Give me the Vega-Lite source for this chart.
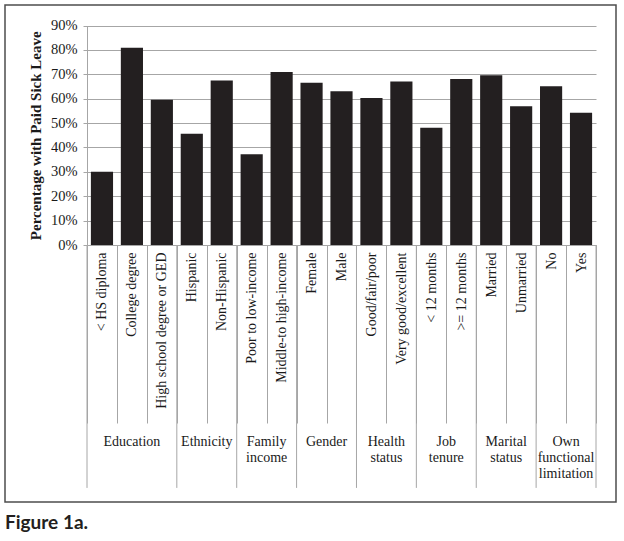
{
  "$schema": "https://vega.github.io/schema/vega-lite/v6.json",
  "width": 611,
  "height": 497,
  "autosize": "none",
  "padding": {"left": 5, "top": 5, "right": 8, "bottom": 39},
  "background": "white",
  "title": {"text": "Figure 1a.", "orient": "bottom", "anchor": "start", "frame": "group", "font": "Lato", "fontSize": 19, "fontWeight": "bold", "color": "#231f20", "offset": 12},
  "config": {"view": {"stroke": "#4d4d4d", "strokeWidth": 1.5}, "font": "serif"},
  "datasets": {
    "bars": [
      {"cat": "< HS diploma", "grp": "Education", "pct": 30.0},
      {"cat": "College degree", "grp": "Education", "pct": 80.9},
      {"cat": "High school degree or GED", "grp": "Education", "pct": 59.6},
      {"cat": "Hispanic", "grp": "Ethnicity", "pct": 45.6},
      {"cat": "Non-Hispanic", "grp": "Ethnicity", "pct": 67.5},
      {"cat": "Poor to low-income", "grp": "Family income", "pct": 37.2},
      {"cat": "Middle-to high-income", "grp": "Family income", "pct": 70.9},
      {"cat": "Female", "grp": "Gender", "pct": 66.5},
      {"cat": "Male", "grp": "Gender", "pct": 63.0},
      {"cat": "Good/fair/poor", "grp": "Health status", "pct": 60.3},
      {"cat": "Very good/excellent", "grp": "Health status", "pct": 67.0},
      {"cat": "< 12 months", "grp": "Job tenure", "pct": 48.1},
      {"cat": ">= 12 months", "grp": "Job tenure", "pct": 68.1},
      {"cat": "Married", "grp": "Marital status", "pct": 69.6},
      {"cat": "Unmarried", "grp": "Marital status", "pct": 56.9},
      {"cat": "No", "grp": "Own functional limitation", "pct": 65.1},
      {"cat": "Yes", "grp": "Own functional limitation", "pct": 54.2}
    ],
    "groups": [
      {"cat": "College degree", "label": "Education", "three": true},
      {"cat": "Non-Hispanic", "label": "Ethnicity", "three": false},
      {"cat": "Middle-to high-income", "label": "Family\nincome", "three": false},
      {"cat": "Male", "label": "Gender", "three": false},
      {"cat": "Very good/excellent", "label": "Health\nstatus", "three": false},
      {"cat": ">= 12 months", "label": "Job\ntenure", "three": false},
      {"cat": "Unmarried", "label": "Marital\nstatus", "three": false},
      {"cat": "Yes", "label": "Own\nfunctional\nlimitation", "three": false}
    ],
    "bounds": [
      {"cat": "< HS diploma", "side": "start"},
      {"cat": "Hispanic", "side": "start"},
      {"cat": "Poor to low-income", "side": "start"},
      {"cat": "Female", "side": "start"},
      {"cat": "Good/fair/poor", "side": "start"},
      {"cat": "< 12 months", "side": "start"},
      {"cat": "Married", "side": "start"},
      {"cat": "No", "side": "start"},
      {"cat": "Yes", "side": "end"}
    ]
  },
  "layer": [
    {
      "data": {"name": "bounds"},
      "transform": [{"filter": "datum.side == 'start'"}],
      "mark": {"type": "rule", "color": "#a6a6a6", "strokeWidth": 1},
      "encoding": {
        "x": {"field": "cat", "type": "nominal", "bandPosition": 0, "sort": null, "scale": {"domain": ["< HS diploma", "College degree", "High school degree or GED", "Hispanic", "Non-Hispanic", "Poor to low-income", "Middle-to high-income", "Female", "Male", "Good/fair/poor", "Very good/excellent", "< 12 months", ">= 12 months", "Married", "Unmarried", "No", "Yes"]}},
        "y": {"datum": 0},
        "y2": {"datum": -99.6}
      }
    },
    {
      "data": {"name": "bounds"},
      "transform": [{"filter": "datum.side == 'end'"}],
      "mark": {"type": "rule", "color": "#a6a6a6", "strokeWidth": 1},
      "encoding": {
        "x": {"field": "cat", "type": "nominal", "bandPosition": 1, "sort": null, "scale": {"domain": ["< HS diploma", "College degree", "High school degree or GED", "Hispanic", "Non-Hispanic", "Poor to low-income", "Middle-to high-income", "Female", "Male", "Good/fair/poor", "Very good/excellent", "< 12 months", ">= 12 months", "Married", "Unmarried", "No", "Yes"]}},
        "y": {"datum": 0},
        "y2": {"datum": -99.6}
      }
    },
    {
      "data": {"name": "bars"},
      "mark": {"type": "bar", "width": {"band": 0.74}, "color": "#231f20"},
      "encoding": {
        "x": {
          "field": "cat", "type": "nominal", "sort": null, "title": null,
          "scale": {"domain": ["< HS diploma", "College degree", "High school degree or GED", "Hispanic", "Non-Hispanic", "Poor to low-income", "Middle-to high-income", "Female", "Male", "Good/fair/poor", "Very good/excellent", "< 12 months", ">= 12 months", "Married", "Unmarried", "No", "Yes"], "range": [82, 591], "paddingInner": 0, "paddingOuter": 0},
          "axis": {"orient": "bottom", "offset": -257, "tickBand": "extent", "tickSize": 178, "tickColor": "#a6a6a6", "domainColor": "#a6a6a6", "labelAngle": -90, "labelAlign": "right", "labelBaseline": "middle", "labelPadding": -171, "labelFont": "serif", "labelFontSize": 14, "labelColor": "#1a1a1a", "labelLimit": 0, "title": null}
        },
        "y": {
          "field": "pct", "type": "quantitative",
          "scale": {"domain": [0, 90], "range": [240, 20.5], "nice": false},
          "axis": {"orient": "left", "offset": -82, "values": [0, 10, 20, 30, 40, 50, 60, 70, 80, 90], "labelExpr": "datum.value + '%'", "grid": true, "gridColor": "#a6a6a6", "domainColor": "#a6a6a6", "tickColor": "#a6a6a6", "tickSize": 4, "labelPadding": 6, "labelFont": "serif", "labelFontSize": 14.5, "labelColor": "#1a1a1a", "title": "Percentage with Paid Sick Leave", "titleFont": "serif", "titleFontSize": 15, "titleFontWeight": "bold", "titleColor": "#1a1a1a", "titlePadding": 7}
        }
      }
    },
    {
      "data": {"name": "groups"},
      "transform": [{"filter": "datum.three"}],
      "mark": {"type": "text", "font": "serif", "fontSize": 14, "lineBreak": "\n", "lineHeight": 16, "baseline": "alphabetic", "align": "center", "color": "#1a1a1a"},
      "encoding": {
        "x": {"field": "cat", "type": "nominal", "bandPosition": 0.5, "sort": null, "scale": {"domain": ["< HS diploma", "College degree", "High school degree or GED", "Hispanic", "Non-Hispanic", "Poor to low-income", "Middle-to high-income", "Female", "Male", "Good/fair/poor", "Very good/excellent", "< 12 months", ">= 12 months", "Married", "Unmarried", "No", "Yes"]}},
        "y": {"datum": -82.6},
        "text": {"field": "label"}
      }
    },
    {
      "data": {"name": "groups"},
      "transform": [{"filter": "!datum.three"}],
      "mark": {"type": "text", "font": "serif", "fontSize": 14, "lineBreak": "\n", "lineHeight": 16, "baseline": "alphabetic", "align": "center", "color": "#1a1a1a"},
      "encoding": {
        "x": {"field": "cat", "type": "nominal", "bandPosition": 0, "sort": null, "scale": {"domain": ["< HS diploma", "College degree", "High school degree or GED", "Hispanic", "Non-Hispanic", "Poor to low-income", "Middle-to high-income", "Female", "Male", "Good/fair/poor", "Very good/excellent", "< 12 months", ">= 12 months", "Married", "Unmarried", "No", "Yes"]}},
        "y": {"datum": -82.6},
        "text": {"field": "label"}
      }
    }
  ]
}
